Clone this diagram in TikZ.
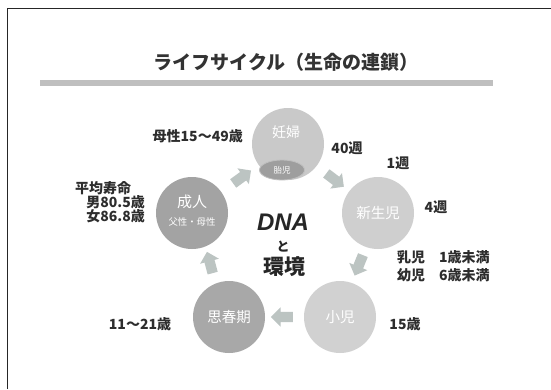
\documentclass[tikz,border=0pt]{standalone}
\usepackage{fontspec}
\setmainfont{Noto Sans CJK JP}
\newfontfamily\latinbi{Liberation Sans}
\usetikzlibrary{shapes.arrows,shapes.geometric,calc}
\definecolor{arrowgray}{RGB}{188,196,194}
\definecolor{labelgray}{RGB}{45,45,45}
\tikzset{
  stage/.style={circle,minimum size=72pt,inner sep=0pt,text=white,font=\fontsize{14.5}{16}\selectfont},
  blockarrow/.style={single arrow,fill=arrowgray,draw=none,inner xsep=0pt,inner ysep=5pt,text width=0pt,text height=0pt,text depth=0pt,minimum height=22pt,single arrow head extend=4.5pt,single arrow head indent=0pt},
  lbl/.style={font=\fontsize{14}{15}\selectfont\bfseries,text=labelgray,inner sep=0pt},
}
\begin{document}
\begin{tikzpicture}[x=1pt,y=-1pt]
\useasboundingbox (0,0) rectangle (551,389);
\fill[white] (0,0) rectangle (551,389);
% frame
\draw[line width=1.8pt,black!85] (7.5,389) -- (7.5,8.5) -- (551,8.5);
% title
\node[font=\fontsize{19}{21}\selectfont\bfseries,text=black!80] (title) at (286,62) {ライフサイクル（生命の連鎖）};
% bar
\fill[gray!50] (40,80) rectangle (493,86);
% stages
\node[stage,fill=black!21] (preg) at (288,144) {};
\node[font=\fontsize{14}{15}\selectfont,text=white] (pregt) at (286,132) {妊婦};
\node[ellipse,fill=black!38,draw=black!25,line width=0.8pt,minimum width=45pt,minimum height=20pt,inner sep=0pt,text=white,font=\fontsize{8.5}{9}\selectfont] (fetus) at (282,170) {胎児};
\node[stage,fill=black!19] (newborn) at (378,213) {新生児};
\node[stage,fill=black!18] (child) at (340,317) {小児};
\node[stage,fill=black!34] (puberty) at (229,317) {思春期};
\node[stage,fill=black!36] (adult) at (192,213) {};
\node[font=\fontsize{15}{16}\selectfont,text=white] (adultt) at (192,202) {成人};
\node[font=\fontsize{9.4}{10}\selectfont,text=white] (adults) at (192,222) {父性・母性};
% block arrows
\node[blockarrow,rotate=36] (a1) at ($(adult)!0.5!(preg)$) {};
\node[blockarrow,rotate=-37] (a2) at ($(preg)!0.5!(newborn)$) {};
\node[blockarrow,rotate=-112] (a3) at ($(newborn)!0.48!(child)$) {};
\node[blockarrow,rotate=180] (a4) at ($(child)!0.5!(puberty)$) {};
\node[blockarrow,rotate=105] (a5) at ($(puberty)!0.5!(adult)$) {};
% centre
\node[font=\latinbi\bfseries\itshape\fontsize{24}{26}\selectfont,text=black!85] (dna) at (283,222) {DNA};
\node[font=\fontsize{13}{14}\selectfont\bfseries,text=black!85] (to) at (283,247) {と};
\node[font=\fontsize{21}{23}\selectfont\bfseries,text=black!85] (env) at (284,267) {環境};
% labels
\node[lbl,anchor=east] (l1) at (243,136) {母性15～49歳};
\node[lbl,anchor=west] (l2) at (75,188) {平均寿命};
\node[lbl,anchor=east] (l3) at (145,202) {男80.5歳};
\node[lbl,anchor=east] (l4) at (145,216) {女86.8歳};
\node[lbl] (l5) at (347,148) {40週};
\node[lbl] (l6) at (398,163) {1週};
\node[lbl] (l7) at (436,207) {4週};
\node[lbl,anchor=west] (l8) at (397,257) {乳児　1歳未満};
\node[lbl,anchor=west] (l9) at (397,275) {幼児　6歳未満};
\node[lbl] (l10) at (140,324) {11～21歳};
\node[lbl] (l11) at (405,324) {15歳};
\end{tikzpicture}
\end{document}
